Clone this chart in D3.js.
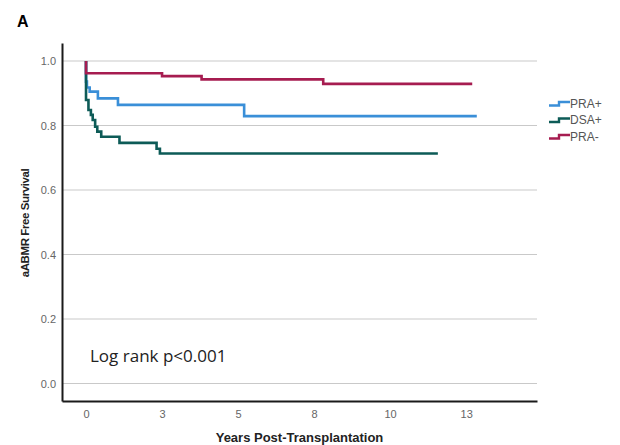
<!DOCTYPE html>
<html>
<head>
<meta charset="utf-8">
<script src="https://cdn.jsdelivr.net/npm/d3@7"></script>
<style>
  body { margin: 0; background: #fff; }
  svg { display: block; }
</style>
</head>
<body>
<div id="chart"></div>
<script>
// Kaplan-Meier data (time in years, survival fraction)
// each value holds from its time until the next time
const groups = ["PRA+", "DSA+", "PRA-"];
const colors = ["#3a8fd8", "#0d5b57", "#a61c50"];

const praPosTimes = [0, 0, 0.03, 0.12, 0.39, 1.05, 5.2, 12.85];
const praPosSurv  = [1.0, 0.936, 0.918, 0.905, 0.884, 0.864, 0.829, 0.829];

const dsaPosTimes = [0, 0, 0.08, 0.16, 0.22, 0.30, 0.37, 0.50, 1.1, 2.32, 2.43, 11.57];
const dsaPosSurv  = [1.0, 0.879, 0.848, 0.833, 0.817, 0.796, 0.781, 0.765, 0.746, 0.728, 0.713, 0.713];

const praNegTimes = [0, 0, 2.5, 3.8, 7.8, 12.7];
const praNegSurv  = [1.0, 0.962, 0.953, 0.943, 0.929, 0.929];

const xTicks = [0, 2.5, 5, 7.5, 10, 12.5];
const yTicks = [0, 0.2, 0.4, 0.6, 0.8, 1.0];

const width = 620, height = 445;
const margin = { left: 62, right: 83, top: 43, bottom: 44 };

const svg = d3.select("#chart").append("svg")
    .attr("width", width)
    .attr("height", height);

const x = d3.scaleLinear()
    .domain([-0.79, 14.83])
    .range([margin.left, width - margin.right]);

const y = d3.scaleLinear()
    .domain([-0.0543, 1.0558])
    .range([height - margin.bottom, margin.top]);

// Gridlines
svg.append("g")
    .selectAll("line")
    .data(yTicks)
    .enter()
    .append("line")
    .attr("x1", margin.left)
    .attr("x2", width - margin.right)
    .attr("y1", d => y(d))
    .attr("y2", d => y(d))
    .attr("stroke", "#c9c9c9")
    .attr("stroke-width", 1.2);

// Axes (no tick marks, labels only)
const yAxis = svg.append("g")
    .attr("transform", `translate(${margin.left},0)`)
    .call(d3.axisLeft(y).tickValues(yTicks).tickFormat(d3.format(".1f")).tickSize(0).tickPadding(6));

const xAxis = svg.append("g")
    .attr("transform", `translate(0,${height - margin.bottom})`)
    .call(d3.axisBottom(x).tickValues(xTicks).tickFormat(d => Math.round(d)).tickSize(0).tickPadding(9));

[yAxis, xAxis].forEach(a => {
    a.select(".domain").attr("stroke", "#1a1a1a").attr("stroke-width", 2);
    a.selectAll("text")
        .attr("fill", "#666")
        .style("font-family", "Liberation Sans, Arial, sans-serif")
        .style("font-size", "11px");
});

// Survival curves
const series = [
    { name: groups[0], times: praPosTimes, surv: praPosSurv, color: colors[0] },
    { name: groups[1], times: dsaPosTimes, surv: dsaPosSurv, color: colors[1] },
    { name: groups[2], times: praNegTimes, surv: praNegSurv, color: colors[2] }
];

const line = d3.line()
    .x(d => x(d[0]))
    .y(d => y(d[1]))
    .curve(d3.curveStepAfter);

svg.append("g")
    .selectAll("path")
    .data(series)
    .enter()
    .append("path")
    .attr("d", d => line(d.times.map((t, i) => [t, d.surv[i]])))
    .attr("fill", "none")
    .attr("stroke", d => d.color)
    .attr("stroke-width", 2.6);

// Legend
const legend = svg.append("g")
    .attr("transform", "translate(549,0)");

const legendRows = [102, 118.5, 135];
const legendItems = legend.selectAll("g")
    .data(series)
    .enter()
    .append("g")
    .attr("transform", (d, i) => `translate(0,${legendRows[i]})`);

legendItems.append("path")
    .attr("d", "M0,3.5H10V0H21")
    .attr("fill", "none")
    .attr("stroke", d => d.color)
    .attr("stroke-width", 2.4);

legendItems.append("text")
    .attr("x", 21)
    .attr("y", 5.5)
    .attr("fill", "#555")
    .style("font-family", "Liberation Sans, Arial, sans-serif")
    .style("font-size", "12px")
    .text(d => d.name);

// Titles and annotations
svg.append("text")
    .attr("x", 17)
    .attr("y", 27)
    .style("font-family", "Liberation Sans, Arial, sans-serif")
    .style("font-size", "16px")
    .style("font-weight", "bold")
    .text("A");

svg.append("text")
    .attr("transform", "translate(29,223) rotate(-90)")
    .attr("text-anchor", "middle")
    .attr("fill", "#222")
    .style("font-family", "Liberation Sans, Arial, sans-serif")
    .style("font-size", "11.5px")
    .style("font-weight", "bold")
    .style("letter-spacing", "-0.4px")
    .text("aABMR Free Survival");

svg.append("text")
    .attr("x", (margin.left + width - margin.right) / 2)
    .attr("y", 442)
    .attr("text-anchor", "middle")
    .attr("fill", "#222")
    .style("font-family", "Liberation Sans, Arial, sans-serif")
    .style("font-size", "13px")
    .style("font-weight", "bold")
    .text("Years Post-Transplantation");

svg.append("text")
    .attr("x", 90)
    .attr("y", 362)
    .attr("fill", "#222")
    .style("font-family", "Open Sans, sans-serif")
    .style("font-size", "17px")
    .text("Log rank p<0.001");
</script>
</body>
</html>
